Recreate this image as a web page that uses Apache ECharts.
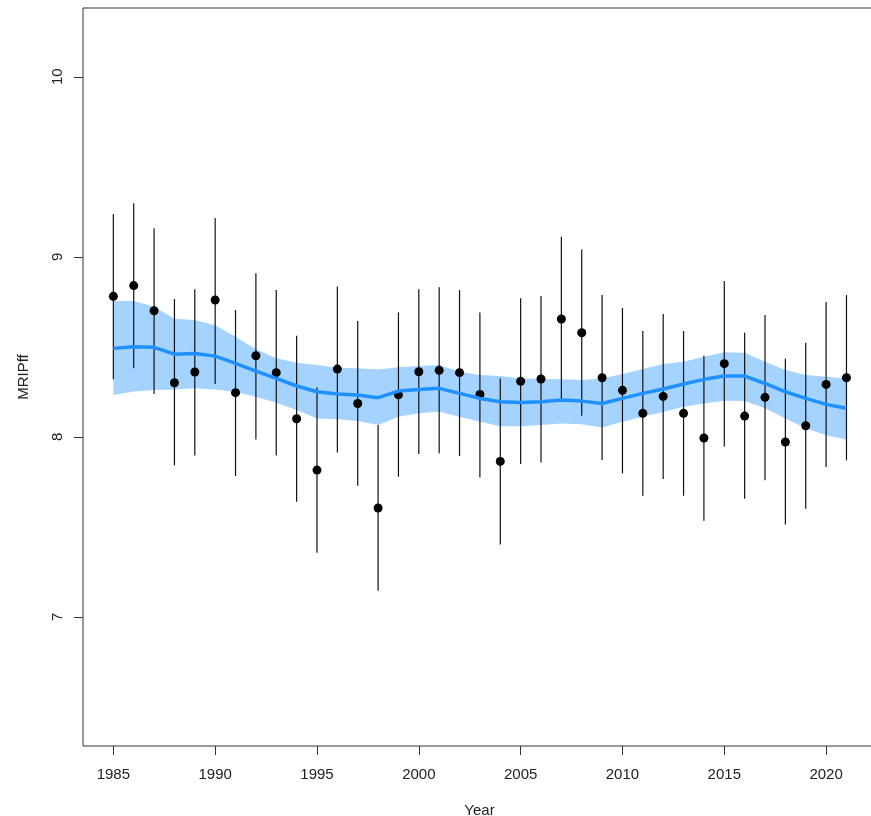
<!DOCTYPE html>
<html>
<head>
<meta charset="utf-8">
<script src="https://cdn.jsdelivr.net/npm/echarts@6/dist/echarts.min.js"></script>
<style>
  html, body { margin: 0; padding: 0; background: #fff; }
  #chart { width: 871px; height: 816px; }
</style>
</head>
<body>
<div id="chart"></div>
<script>
// years on the x axis
const years = [1985, 1986, 1987, 1988, 1989, 1990, 1991, 1992, 1993, 1994,
  1995, 1996, 1997, 1998, 1999, 2000, 2001, 2002, 2003, 2004,
  2005, 2006, 2007, 2008, 2009, 2010, 2011, 2012, 2013, 2014,
  2015, 2016, 2017, 2018, 2019, 2020, 2021];

// observed index (black points)
const obs = [8.78, 8.84, 8.70, 8.30, 8.36, 8.76, 8.245, 8.45, 8.356, 8.10,
  7.815, 8.376, 8.185, 7.604, 8.233, 8.361, 8.369, 8.356, 8.235, 7.863,
  8.308, 8.321, 8.654, 8.578, 8.328, 8.258, 8.13, 8.224, 8.13, 7.993,
  8.406, 8.115, 8.219, 7.971, 8.061, 8.291, 8.328];

// error bar ends
const obsLow = [8.32, 8.38, 8.237, 7.841, 7.896, 8.293, 7.782, 7.985, 7.896, 7.639,
  7.356, 7.913, 7.728, 7.144, 7.778, 7.904, 7.908, 7.893, 7.774, 7.402,
  7.848, 7.857, 8.204, 8.117, 7.871, 7.797, 7.672, 7.765, 7.672, 7.533,
  7.946, 7.656, 7.759, 7.513, 7.60, 7.832, 7.869];
const obsHigh = [9.237, 9.297, 9.159, 8.765, 8.82, 9.215, 8.704, 8.908, 8.815, 8.561,
  8.274, 8.835, 8.643, 8.065, 8.691, 8.819, 8.83, 8.815, 8.691, 8.324,
  8.769, 8.782, 9.111, 9.041, 8.787, 8.715, 8.587, 8.682, 8.587, 8.45,
  8.865, 8.578, 8.676, 8.433, 8.522, 8.748, 8.787];

// fitted trend and its interval (blue)
const fit = [8.491, 8.50, 8.497, 8.459, 8.463, 8.448, 8.408, 8.365, 8.324, 8.282,
  8.25, 8.237, 8.232, 8.217, 8.254, 8.263, 8.269, 8.241, 8.213, 8.194,
  8.191, 8.194, 8.204, 8.198, 8.185, 8.213, 8.241, 8.265, 8.293, 8.319,
  8.337, 8.337, 8.296, 8.25, 8.213, 8.18, 8.158];
const fitLow = [8.232, 8.252, 8.26, 8.263, 8.269, 8.263, 8.248, 8.222, 8.189, 8.148,
  8.102, 8.097, 8.087, 8.065, 8.111, 8.13, 8.139, 8.111, 8.083, 8.059,
  8.059, 8.065, 8.074, 8.069, 8.052, 8.083, 8.111, 8.137, 8.167, 8.185,
  8.20, 8.198, 8.158, 8.102, 8.047, 8.009, 7.985];
const fitHigh = [8.754, 8.754, 8.722, 8.656, 8.648, 8.62, 8.556, 8.486, 8.436, 8.411,
  8.398, 8.383, 8.38, 8.374, 8.386, 8.393, 8.398, 8.361, 8.343, 8.337,
  8.324, 8.321, 8.319, 8.315, 8.324, 8.348, 8.376, 8.404, 8.417, 8.444,
  8.469, 8.467, 8.417, 8.371, 8.343, 8.333, 8.324];

const xTicks = [1985, 1990, 1995, 2000, 2005, 2010, 2015, 2020];
const yTicks = [7, 8, 9, 10];

const myChart = echarts.init(document.getElementById("chart"));
const font = "Liberation Sans, Arial, sans-serif";

const bars = years.map((y, i) => [y, obsLow[i], obsHigh[i]]);

const option = {
  animation: false,
  backgroundColor: "#fff",
  grid: {
    left: 83,
    top: 8,
    right: -5,
    bottom: 70,
    outerBoundsMode: "none",
    containLabel: false,
    show: true,
    borderColor: "#333",
    borderWidth: 1,
  },
  xAxis: {
    type: "value",
    min: 1983.51,
    max: 2022.45,
    name: "Year",
    nameLocation: "middle",
    nameGap: 57,
    nameTextStyle: { fontFamily: font, fontSize: 15, color: "#222" },
    axisLine: { show: false },
    splitLine: { show: false },
    axisTick: {
      show: true,
      length: 9,
      customValues: xTicks,
      lineStyle: { color: "#333", width: 1 },
    },
    axisLabel: {
      customValues: xTicks,
      formatter: (v) => String(v),
      margin: 21,
      fontFamily: font,
      fontSize: 15,
      color: "#222",
    },
  },
  yAxis: {
    type: "value",
    min: 6.282,
    max: 10.382,
    name: "MRIPff",
    nameLocation: "middle",
    nameGap: 52,
    nameRotate: 90,
    nameTextStyle: { fontFamily: font, fontSize: 15, color: "#222" },
    axisLine: { show: false },
    splitLine: { show: false },
    axisTick: {
      show: true,
      length: 9,
      customValues: yTicks,
      lineStyle: { color: "#333", width: 1 },
    },
    axisLabel: {
      customValues: yTicks,
      formatter: (v) => String(v),
      rotate: 90,
      margin: 18,
      fontFamily: font,
      fontSize: 15,
      color: "#222",
    },
  },
  series: [
    {
      // confidence band drawn as one polygon through the axis scales
      type: "custom",
      data: [0],
      renderItem: function (params, api) {
        const pts = [];
        for (let i = 0; i < years.length; i++) {
          pts.push(api.coord([years[i], fitHigh[i]]));
        }
        for (let i = years.length - 1; i >= 0; i--) {
          pts.push(api.coord([years[i], fitLow[i]]));
        }
        return {
          type: "polygon",
          shape: { points: pts },
          style: { fill: "#a5d3ff" },
        };
      },
      silent: true,
    },
    {
      type: "custom",
      data: bars,
      encode: { x: 0, y: [1, 2] },
      renderItem: function (params, api) {
        const p1 = api.coord([api.value(0), api.value(1)]);
        const p2 = api.coord([api.value(0), api.value(2)]);
        return {
          type: "line",
          shape: { x1: p1[0], y1: p1[1], x2: p2[0], y2: p2[1] },
          style: { stroke: "#111", lineWidth: 1.2 },
        };
      },
      silent: true,
    },
    {
      type: "line",
      data: years.map((y, i) => [y, fit[i]]),
      symbol: "none",
      lineStyle: { color: "#1e90ff", width: 3.5 },
      silent: true,
    },
    {
      type: "scatter",
      data: years.map((y, i) => [y, obs[i]]),
      symbol: "circle",
      symbolSize: 9,
      itemStyle: { color: "#000", opacity: 1 },
      silent: true,
    },
  ],
};

myChart.setOption(option);
</script>
</body>
</html>
